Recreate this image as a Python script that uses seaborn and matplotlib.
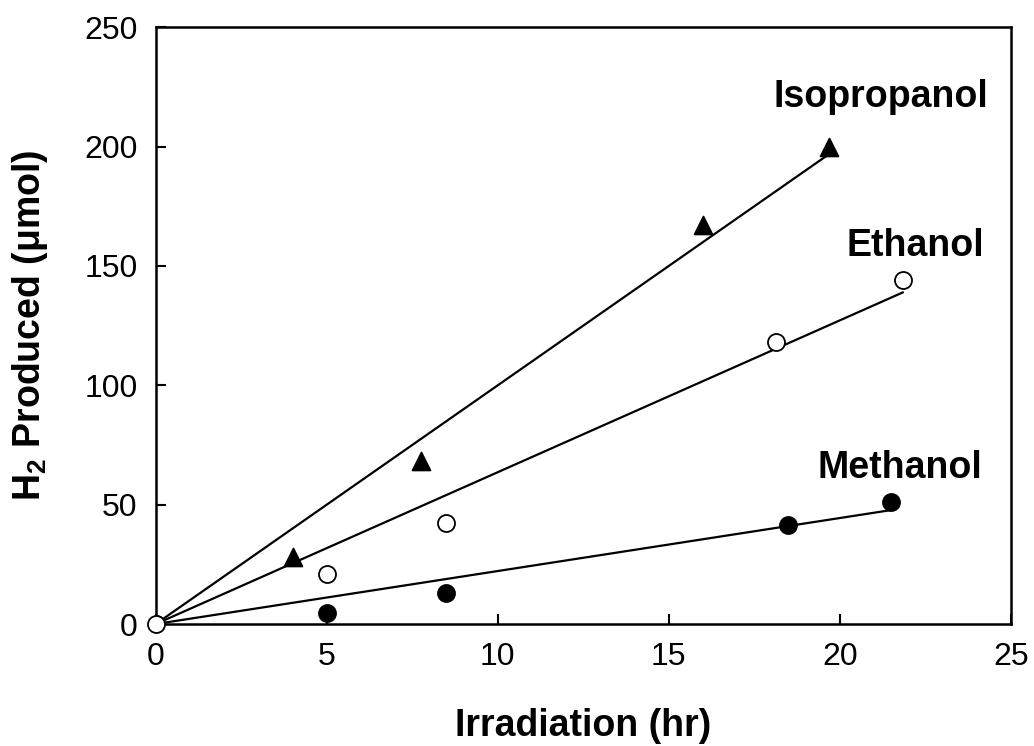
import numpy as np
import pandas as pd
import matplotlib
matplotlib.use("Agg")
import matplotlib.pyplot as plt
import seaborn as sns

# ---- data ----
iso_x = [0, 4.0, 7.75, 16.0, 19.7]
iso_y = [0, 28.0, 68.5, 167.0, 199.7]
eth_x = [0, 5.0, 8.5, 18.15, 21.85]
eth_y = [0, 20.8, 42.2, 118.2, 144.0]
met_x = [0, 5.0, 8.5, 18.5, 21.5]
met_y = [0, 4.6, 12.9, 41.5, 51.3]

# slopes of the fitted lines through the origin
fit_slopes = {"Isopropanol": 10.0, "Ethanol": 6.36, "Methanol": 2.22}

x_ticks = [0, 5, 10, 15, 20, 25]
y_ticks = [0, 50, 100, 150, 200, 250]

sns.set_theme(style="ticks")
plt.rcParams["font.family"] = ["Liberation Sans", "DejaVu Sans"]
plt.rcParams["mathtext.default"] = "regular"
plt.rcParams["text.color"] = "black"
plt.rcParams["axes.labelcolor"] = "black"
plt.rcParams["xtick.color"] = "black"
plt.rcParams["ytick.color"] = "black"

df = pd.concat([
    pd.DataFrame({"x": iso_x, "y": iso_y, "series": "Isopropanol"}),
    pd.DataFrame({"x": eth_x, "y": eth_y, "series": "Ethanol"}),
    pd.DataFrame({"x": met_x, "y": met_y, "series": "Methanol"}),
], ignore_index=True)

fit_rows = []
for name, slope in fit_slopes.items():
    xmax = df.loc[df.series == name, "x"].max()
    fit_rows.append({"x": 0.0, "y": 0.0, "series": name})
    fit_rows.append({"x": xmax, "y": slope * xmax, "series": name})
fit_df = pd.DataFrame(fit_rows)

fig = plt.figure(figsize=(10.34, 7.46), dpi=100)
ax = fig.add_axes([0.1506, 0.1635, 0.9775 - 0.1506, 0.9634 - 0.1635])

sns.lineplot(data=fit_df, x="x", y="y", units="series", estimator=None,
             color="black", linewidth=1.6, ax=ax, legend=False, zorder=2)

styles = {
    "Methanol": dict(marker="o", s=150, facecolor="black", clip=True, z=3),
    "Isopropanol": dict(marker="^", s=165, facecolor="black", clip=True, z=3),
    "Ethanol": dict(marker="o", s=150, facecolor="white", clip=False, z=4),
}
for name in ["Methanol", "Isopropanol", "Ethanol"]:
    st = styles[name]
    sns.scatterplot(data=df[df.series == name], x="x", y="y", ax=ax,
                    marker=st["marker"], s=st["s"], color=st["facecolor"],
                    edgecolor="black", linewidth=1.3, legend=False,
                    zorder=st["z"], clip_on=st["clip"])

ax.set_xlim(0, 25)
ax.set_ylim(0, 250)
ax.set_xticks(x_ticks)
ax.set_yticks(y_ticks)
ax.tick_params(direction="in", length=7, width=1.5, labelsize=23, pad=13,
               colors="black")
for sp in ax.spines.values():
    sp.set_linewidth(1.8)
    sp.set_color("black")
    sp.set_visible(True)

ax.set_xlabel("Irradiation (hr)", fontsize=27, fontweight="bold", labelpad=26,
              color="black")
ax.set_ylabel(r"H$_2$ Produced (μmol)", fontsize=27, fontweight="bold",
              labelpad=25, color="black")

ax.text(21.2, 221, "Isopropanol", fontsize=27, fontweight="bold",
        ha="center", va="center", color="black")
ax.text(22.2, 158.5, "Ethanol", fontsize=27, fontweight="bold",
        ha="center", va="center", color="black")
ax.text(21.75, 65.5, "Methanol", fontsize=27, fontweight="bold",
        ha="center", va="center", color="black")

fig.savefig("out.png", dpi=100)
